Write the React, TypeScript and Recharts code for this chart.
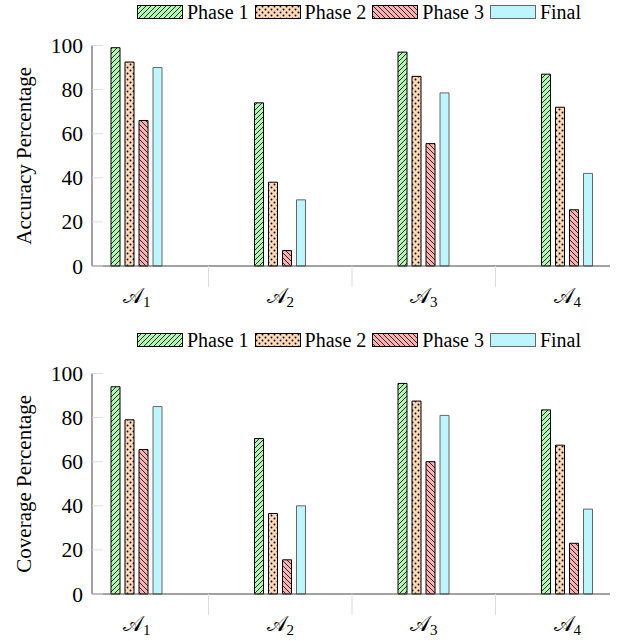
import React from 'react';
import { BarChart, Bar, XAxis, YAxis } from 'recharts';

const categories = ['A1', 'A2', 'A3', 'A4'];
const categorySubscripts = ['1', '2', '3', '4'];
const seriesNames = ['Phase 1', 'Phase 2', 'Phase 3', 'Final'];
const yTicks = [0, 20, 40, 60, 80, 100];

const accuracyPhase1 = [99, 74, 97, 87];
const accuracyPhase2 = [92.5, 38, 86, 72];
const accuracyPhase3 = [66, 7, 55.5, 25.5];
const accuracyFinal = [90, 30, 78.5, 42];

const coveragePhase1 = [94, 70.5, 95.5, 83.5];
const coveragePhase2 = [79, 36.5, 87.5, 67.5];
const coveragePhase3 = [65.5, 15.5, 60, 23];
const coverageFinal = [85, 40, 81, 38.5];

const FONT = '"Liberation Serif", "Times New Roman", serif';
const W = 618;
const H = 328;
const MARGIN = { top: 45.5, right: 8, bottom: 32, left: 32 };
const YAXIS_W = 60;
const XAXIS_H = 30;
const PAD = { left: -27, right: -29 };
const PLOT_LEFT = MARGIN.left + YAXIS_W;
const PLOT_RIGHT = W - MARGIN.right;
const BAND = (PLOT_RIGHT - PAD.right - (PLOT_LEFT + PAD.left)) / categories.length;

const fills = ['url(#pat-green)', 'url(#pat-dots)', 'url(#pat-pink)', '#bdf5fc'];
const strokes = ['#000', '#000', '#000', '#666'];
const keys = ['p1', 'p2', 'p3', 'fin'];

function buildRows(a: number[], b: number[], c: number[], d: number[]) {
  return categories.map((cat, i) => ({ cat, sub: categorySubscripts[i], p1: a[i], p2: b[i], p3: c[i], fin: d[i] }));
}

const accuracyRows = buildRows(accuracyPhase1, accuracyPhase2, accuracyPhase3, accuracyFinal);
const coverageRows = buildRows(coveragePhase1, coveragePhase2, coveragePhase3, coverageFinal);

function Patterns() {
  return (
    <svg width={0} height={0} style={{ position: 'absolute' }}>
      <defs>
        <pattern id="pat-green" patternUnits="userSpaceOnUse" width={5} height={5}>
          <rect width={5} height={5} fill="#b3f5b3" />
          <path d="M-1,1 l2,-2 M0,5 l5,-5 M4,6 l2,-2" stroke="#000" strokeWidth={0.8} />
        </pattern>
        <pattern id="pat-pink" patternUnits="userSpaceOnUse" width={5} height={5}>
          <rect width={5} height={5} fill="#f9b1b1" />
          <path d="M-1,4 l2,2 M0,0 l5,5 M4,-1 l2,2" stroke="#000" strokeWidth={0.8} />
        </pattern>
        <pattern id="pat-dots" patternUnits="userSpaceOnUse" width={6} height={6}>
          <rect width={6} height={6} fill="#fdd9b5" />
          <circle cx={1.5} cy={1.5} r={0.95} fill="#000" />
          <circle cx={4.5} cy={4.5} r={0.95} fill="#000" />
        </pattern>
      </defs>
    </svg>
  );
}

function XTick(props: any) {
  const { x, y, payload, index } = props;
  const row = categories.indexOf(payload.value);
  return (
    <g>
      {index < categories.length - 1 && (
        <line x1={x + BAND / 2} x2={x + BAND / 2} y1={y} y2={y + 21} stroke="#dcdcdc" strokeWidth={1} />
      )}
      <text x={x} y={y + 37} textAnchor="middle" fontFamily={FONT} fontSize={21} fill="#000">
        <tspan>𝒜</tspan>
        <tspan fontSize={15} dy={4}>{categorySubscripts[row]}</tspan>
      </text>
    </g>
  );
}

function YTick(props: any) {
  const { x, y, payload } = props;
  return (
    <g>
      <line x1={PLOT_LEFT} x2={PLOT_LEFT + 11} y1={y} y2={y} stroke="#dcdcdc" strokeWidth={1} />
      <text x={x} y={y} dy="0.35em" textAnchor="end" fontFamily={FONT} fontSize={21.5} fill="#000">
        {payload.value}
      </text>
    </g>
  );
}

function YLabel(props: any) {
  const { viewBox, text } = props;
  const cx = viewBox.x - 8;
  const cy = viewBox.y + viewBox.height / 2;
  return (
    <text
      x={cx}
      y={cy}
      transform={`rotate(-90, ${cx}, ${cy})`}
      textAnchor="middle"
      dominantBaseline="central"
      fontFamily={FONT}
      fontSize={21}
      fill="#000"
    >
      {text}
    </text>
  );
}

function Legend() {
  return (
    <div
      style={{
        position: 'absolute',
        left: 100,
        top: 0,
        width: 518,
        height: 24,
        display: 'flex',
        justifyContent: 'center',
        alignItems: 'center',
        fontFamily: FONT,
        fontSize: 20,
        lineHeight: '24px',
        whiteSpace: 'nowrap',
      }}
    >
      {seriesNames.map((name, i) => (
        <div key={name} style={{ display: 'flex', alignItems: 'center', marginRight: i < 3 ? 6 : 0 }}>
          <svg width={46} height={14} style={{ display: 'block', marginRight: 4 }}>
            <rect x={0.5} y={0.5} width={45} height={13} fill={fills[i]} stroke={strokes[i]} strokeWidth={1} />
          </svg>
          <span>{name}</span>
        </div>
      ))}
    </div>
  );
}

function Panel(props: { rows: any[]; label: string; top: number }) {
  const { rows, label, top } = props;
  return (
    <div style={{ position: 'absolute', left: 0, top, width: W, height: H }}>
      <Legend />
      <BarChart width={W} height={H} data={rows} margin={MARGIN} barSize={9} barGap={5}>
        <XAxis
          dataKey="cat"
          type="category"
          height={XAXIS_H}
          padding={PAD}
          tickSize={0}
          tickMargin={0}
          tickLine={false}
          axisLine={{ stroke: '#444', strokeWidth: 1 }}
          tick={<XTick />}
          interval={0}
        />
        <YAxis
          width={YAXIS_W}
          domain={[0, 100]}
          ticks={yTicks}
          tickSize={0}
          tickMargin={9}
          tickLine={false}
          axisLine={{ stroke: '#444', strokeWidth: 1 }}
          tick={<YTick />}
          label={<YLabel text={label} />}
        />
        {keys.map((k, i) => (
          <Bar key={k} dataKey={k} name={seriesNames[i]} fill={fills[i]} stroke={strokes[i]} strokeWidth={1} isAnimationActive={false} />
        ))}
      </BarChart>
    </div>
  );
}

export default function App() {
  return (
    <div style={{ position: 'absolute', left: 0, top: 0, width: W, height: 641, background: '#fff' }}>
      <Patterns />
      <Panel rows={accuracyRows} label="Accuracy Percentage" top={0} />
      <Panel rows={coverageRows} label="Coverage Percentage" top={328} />
    </div>
  );
}
